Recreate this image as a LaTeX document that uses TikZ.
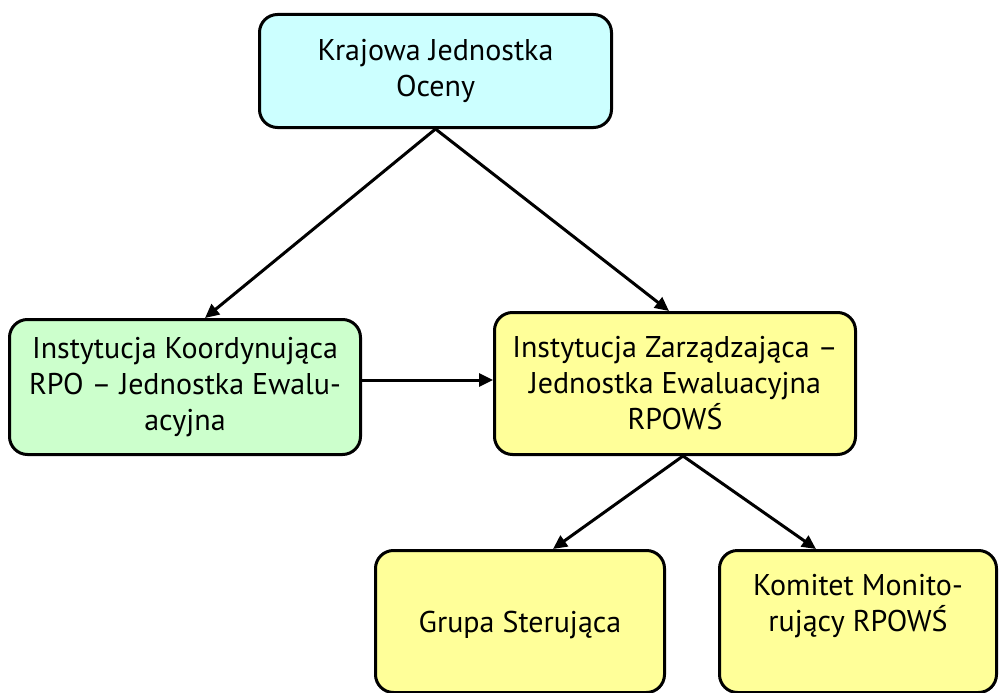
\documentclass[tikz,border=0pt]{standalone}
\usepackage{fontspec}
\setmainfont{PT Sans}
\usetikzlibrary{arrows.meta}
\definecolor{boxcyan}{HTML}{CCFFFF}
\definecolor{boxgreen}{HTML}{CCFFCC}
\definecolor{boxyellow}{HTML}{FFFF99}
\tikzset{
  orgbox/.style={draw=black, line width=3pt, rounded corners=18pt, inner sep=0pt,
    align=center, font=\fontsize{30}{36}\selectfont},
  link/.style={draw=black, line width=3pt, -{Triangle[length=14pt,width=13pt]}},
  boxtext/.style={align=center, inner sep=0pt, font=\fontsize{30}{36}\selectfont}
}
\begin{document}
\begin{tikzpicture}[x=1pt,y=-1pt]
\useasboundingbox (0,0) rectangle (999,693);
\node[orgbox, fill=boxcyan, minimum width=352pt, minimum height=113pt] (top) at (435.5,71)
  {Krajowa Jednostka\\Oceny};
\node[orgbox, fill=boxgreen, minimum width=351pt, minimum height=135pt] (left) at (185,387)
  {Instytucja Koordynująca\\RPO – Jednostka Ewalu-\\acyjna};
\node[orgbox, fill=boxyellow, minimum width=361pt, minimum height=142pt] (mid) at (675,383.5)
  {Instytucja Zarządzająca –\\Jednostka Ewaluacyjna\\RPOWŚ};
\node[orgbox, fill=boxyellow, minimum width=289pt, minimum height=142pt] (bl) at (520,621.5) {};
\node[orgbox, fill=boxyellow, minimum width=277pt, minimum height=142pt] (br) at (858,621.5) {};
\node[boxtext] (bltext) at (520,625) {Grupa Sterująca};
\node[boxtext] (brtext) at (858,606) {Komitet Monito-\\rujący RPOWŚ};
\draw[link] (top.south) -- ([xshift=20pt]left.north);
\draw[link] (top.south) -- ([xshift=-6pt]mid.north);
\draw[link] ([yshift=7pt]left.east) -- ([yshift=3.5pt]mid.west);
\draw[link] ([xshift=8pt]mid.south) -- ([xshift=33pt]bl.north);
\draw[link] ([xshift=8pt]mid.south) -- ([xshift=-42pt]br.north);
\end{tikzpicture}
\end{document}
